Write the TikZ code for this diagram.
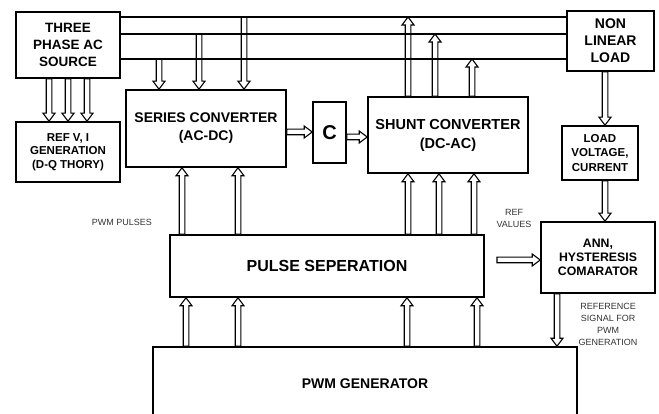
\documentclass[tikz,border=0pt]{standalone}
\usepackage{fontspec}
\setmainfont{Liberation Sans}
\usetikzlibrary{calc}
\newcommand\harrw[2]{\draw[dbl] let \p1=(#1), \p2=(#2), \n1={atan2(\y2-\y1,\x2-\x1)} in
      ($(\p1)+(\n1+90:2.8pt)$) -- ($(\p2)+(\n1+180:8pt)+(\n1+90:2.8pt)$)
      -- ($(\p2)+(\n1+180:8pt)+(\n1+90:6pt)$) -- (\p2)
      -- ($(\p2)+(\n1+180:8pt)+(\n1-90:6pt)$) -- ($(\p2)+(\n1+180:8pt)+(\n1-90:2.8pt)$)
      -- ($(\p1)+(\n1-90:2.8pt)$) -- cycle;}
\begin{document}
\begin{tikzpicture}[x=1pt,y=-1pt,
  box/.style={draw, line width=1.6pt, align=center, inner sep=0pt},
  dbl/.style={draw, fill=white, line width=1.1pt, line join=miter},
  bus/.style={line width=1.6pt},
  lbl/.style={font=\fontsize{9}{12}\selectfont, text=black!80, align=center}
]
\useasboundingbox (0,0) rectangle (659,414);
% boxes
\node[box, minimum width=104, minimum height=66, font=\bfseries\fontsize{13.5}{17}\selectfont] (src) at (68,45) {THREE\\PHASE AC\\SOURCE};
\node[box, minimum width=104, minimum height=60, font=\bfseries\fontsize{11.5}{13.5}\selectfont] (ref) at (68,152) {REF V, I\\GENERATION\\(D-Q THORY)};
\node[box, minimum width=160, minimum height=77, font=\bfseries\fontsize{14}{18}\selectfont] (ser) at (206,128.5) {SERIES CONVERTER\\(AC-DC)};
\node[box, minimum width=33, minimum height=61, font=\bfseries\fontsize{20}{24}\selectfont] (cap) at (329.5,132.5) {C};
\node[box, minimum width=160, minimum height=76, font=\bfseries\fontsize{14.5}{19}\selectfont] (shu) at (448,135) {SHUNT CONVERTER\\(DC-AC)};
\node[box, minimum width=87, minimum height=60, font=\bfseries\fontsize{14}{17}\selectfont] (nll) at (610.5,41) {NON\\LINEAR\\LOAD};
\node[box, minimum width=76, minimum height=54, font=\bfseries\fontsize{11.5}{14.5}\selectfont] (lvc) at (600,153) {LOAD\\VOLTAGE,\\CURRENT};
\node[box, minimum width=114, minimum height=71, font=\bfseries\fontsize{12.3}{14}\selectfont] (ann) at (598,257.5) {ANN,\\HYSTERESIS\\COMARATOR};
\node[box, minimum width=314, minimum height=62, font=\bfseries\fontsize{16}{19}\selectfont] (pls) at (327,266) {PULSE SEPERATION};
\node[box, minimum width=424, minimum height=73, font=\bfseries\fontsize{14}{17}\selectfont] (pwm) at (365,383.5) {PWM GENERATOR};
% labels
\node[lbl] (lpp) at (122,222) {PWM PULSES};
\node[lbl] (lrv) at (514,218) {REF\\VALUES};
\node[lbl] (lrs) at (608,324) {REFERENCE\\SIGNAL FOR\\PWM\\GENERATION};
% bus coordinates
\coordinate (l1) at (0,17);
\coordinate (l2) at (0,34);
\coordinate (l3) at (0,59);
% arrows
\foreach \px in {49,68,87} {\harrw{src.south -| \px,0}{ref.north -| \px,0}}
\harrw{l3 -| 159,0}{ser.north -| 159,0}
\harrw{l2 -| 199,0}{ser.north -| 199,0}
\harrw{l1 -| 244,0}{ser.north -| 244,0}
\harrw{shu.north -| 408,0}{l1 -| 408,0}
\harrw{shu.north -| 435,0}{l2 -| 435,0}
\harrw{shu.north -| 472,0}{l3 -| 472,0}
\harrw{ser.east |- 0,132}{cap.west |- 0,132}
\harrw{cap.east |- 0,137}{shu.west |- 0,137}
\harrw{nll.south -| 605,0}{lvc.north -| 605,0}
\harrw{lvc.south -| 605,0}{ann.north -| 605,0}
\foreach \px in {182,238} {\harrw{pls.north -| \px,0}{ser.south -| \px,0}}
\foreach \px in {408,439,474} {\harrw{pls.north -| \px,0}{shu.south -| \px,0}}
\foreach \px in {186,238,407,477} {\harrw{pwm.north -| \px,0}{pls.south -| \px,0}}
\harrw{ann.south -| 557,0}{pwm.north -| 557,0}
\coordinate (ps) at (497,260);
\harrw{ps}{ann.west |- ps}
% bus lines
\draw[bus] (src.east |- l1) -- (nll.west |- l1);
\draw[bus] (src.east |- l2) -- (nll.west |- l2);
\draw[bus] (src.east |- l3) -- (nll.west |- l3);
\end{tikzpicture}
\end{document}
